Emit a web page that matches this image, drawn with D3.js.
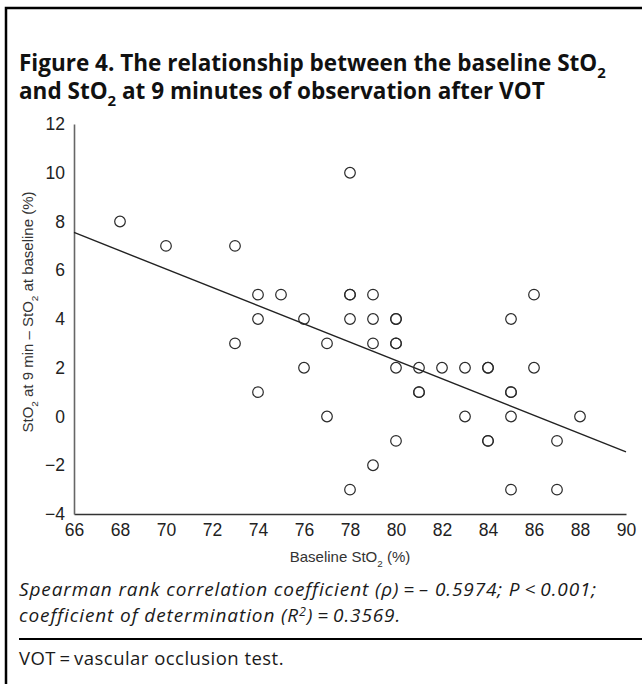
<!DOCTYPE html>
<html>
<head>
<meta charset="utf-8">
<script src="https://cdn.jsdelivr.net/npm/d3@7"></script>
<style>
  body { margin: 0; background: #fff; }
  svg { display: block; }
  .tick text { font-family: "Liberation Sans", Arial, sans-serif; font-size: 17.5px; fill: #222; }
  .title { font-family: "Open Sans", sans-serif; font-weight: 700; fill: #111; }
  .note { font-family: "Open Sans", sans-serif; font-weight: 400; fill: #1a1a1a; }
  .axis-label { font-family: "Liberation Sans", Arial, sans-serif; fill: #333; }
</style>
</head>
<body>
<svg id="chart"></svg>
<script>
// baseline StO2 (%) and change at 9 min, one entry per patient
const baselineSto2 = [68,70,73,73,74,74,74,75,76,76,77,77,78,78,78,78,78,79,79,79,79,
                      80,80,80,80,80,80,81,81,81,82,83,83,84,84,84,84,85,85,85,85,85,86,86,87,87,88];
const deltaSto2    = [8,7,7,3,5,4,1,5,4,2,3,0,10,5,5,4,-3,5,4,3,-2,
                      4,4,3,3,2,-1,2,1,1,2,2,0,2,2,-1,-1,4,1,1,0,-3,5,2,-1,-3,0];

// end points of the fitted line
const fitX = [66, 90];
const fitY = [7.55, -1.45];

const xTicks = [66,68,70,72,74,76,78,80,82,84,86,88,90];
const yTicks = [-4,-2,0,2,4,6,8,10,12];

const titleLines = ["Figure 4. The relationship between the baseline StO_{2}",
                    "and StO_{2} at 9 minutes of observation after VOT"];
const noteLines = ["Spearman rank correlation coefficient (\u03c1)\u2009=\u2009\u2013 0.5974; P\u2009<\u20090.001;",
                   "coefficient of determination (R^{2})\u2009=\u20090.3569."];
const footLine = "VOT\u2009=\u2009vascular occlusion test.";

const W = 642, H = 684;
const svg = d3.select('#chart').attr('width', W).attr('height', H);

// writes a string with _{..} subscripts and ^{..} superscripts as tspans
function richText(sel, str, size) {
  const parts = str.split(/([_^]\{[^}]*\})/).filter(s => s.length);
  let back = 0;
  parts.forEach(p => {
    if (p[0] === '_' || p[0] === '^') {
      const shift = p[0] === '_' ? size * 0.3 : -size * 0.34;
      sel.append('tspan').attr('font-size', size * 0.66).attr('dy', shift + back).text(p.slice(2, -1));
      back = -shift;
    } else {
      sel.append('tspan').attr('dy', back || null).text(p);
      back = 0;
    }
  });
}

// draw a rich text line, then rescale so it is `width` wide
function fitLine(cls, str, x0, y0, size, width) {
  const t = svg.append('text').attr('class', cls).attr('x', x0).attr('y', y0)
    .attr('font-size', size);
  richText(t, str, size);
  const s = size * width / t.node().getComputedTextLength();
  t.selectAll('tspan').remove();
  t.attr('font-size', s);
  richText(t, str, s);
  return s;
}

// keep the font size, spread the letters so the line is `width` wide
function spreadLine(cls, str, x0, y0, size, width, italic) {
  const t = svg.append('text').attr('class', cls).attr('x', x0).attr('y', y0)
    .attr('font-size', size).attr('font-style', italic ? 'italic' : null);
  richText(t, str, size);
  const n = t.text().length;
  const ls = (width - t.node().getComputedTextLength()) / n;
  t.attr('letter-spacing', ls);
  return ls;
}

// frame
svg.append('path')
  .attr('d', `M6,${H} V8 H${W}`)
  .attr('fill', 'none')
  .attr('stroke', '#000')
  .attr('stroke-width', 2.5);

// title
const ts = fitLine('title', titleLines[0], 19, 71, 20, 587);
const t2 = svg.append('text').attr('class', 'title')
  .attr('x', 19).attr('y', 99).attr('font-size', ts);
richText(t2, titleLines[1], ts);

// scales
const x = d3.scaleLinear().domain([66, 90]).range([74, 626]);
const y = d3.scaleLinear().domain([-4, 12]).range([514, 124]);

const xAxis = d3.axisBottom(x).tickValues(xTicks).tickSize(0).tickPadding(10);
const yAxis = d3.axisLeft(y).tickValues(yTicks).tickSize(0).tickPadding(9);

svg.append('g').attr('class', 'axis x-axis')
  .attr('transform', 'translate(0,514)')
  .call(xAxis)
  .call(g => g.select('.domain').attr('stroke', '#333').attr('stroke-width', 1.5));

svg.append('g').attr('class', 'axis y-axis')
  .attr('transform', 'translate(74,0)')
  .call(yAxis)
  .call(g => g.select('.domain').attr('stroke', '#666').attr('stroke-width', 1.6));

// fitted line
svg.append('line')
  .attr('x1', x(fitX[0])).attr('y1', y(fitY[0]))
  .attr('x2', x(fitX[1])).attr('y2', y(fitY[1]))
  .attr('stroke', '#222').attr('stroke-width', 1.4);

// points
svg.append('g').selectAll('circle')
  .data(baselineSto2.map((b, i) => ({x: b, y: deltaSto2[i]})))
  .join('circle')
  .attr('cx', d => x(d.x))
  .attr('cy', d => y(d.y))
  .attr('r', 5.3)
  .attr('fill', 'none')
  .attr('stroke', '#2a2a2a')
  .attr('stroke-width', 1.2);

// axis titles
const xl = svg.append('text').attr('class', 'axis-label')
  .attr('x', 350).attr('y', 562).attr('font-size', 15).attr('text-anchor', 'middle');
richText(xl, 'Baseline StO_{2} (%)', 15);

const yl = svg.append('text').attr('class', 'axis-label')
  .attr('font-size', 15)
  .attr('transform', 'translate(33,312) rotate(-90)')
  .attr('text-anchor', 'middle');
richText(yl, 'StO_{2} at 9 min \u2013 StO_{2} at baseline (%)', 15);

// notes
const ls = spreadLine('note', noteLines[0], 19, 596, 19, 578, true);
const n2 = svg.append('text').attr('class', 'note')
  .attr('x', 19).attr('y', 622).attr('font-size', 19)
  .attr('font-style', 'italic').attr('letter-spacing', ls);
richText(n2, noteLines[1], 19);

svg.append('line')
  .attr('x1', 19).attr('x2', W)
  .attr('y1', 639).attr('y2', 639)
  .attr('stroke', '#000').attr('stroke-width', 2);

spreadLine('note', footLine, 19, 665, 18.5, 265, false);
</script>
</body>
</html>
